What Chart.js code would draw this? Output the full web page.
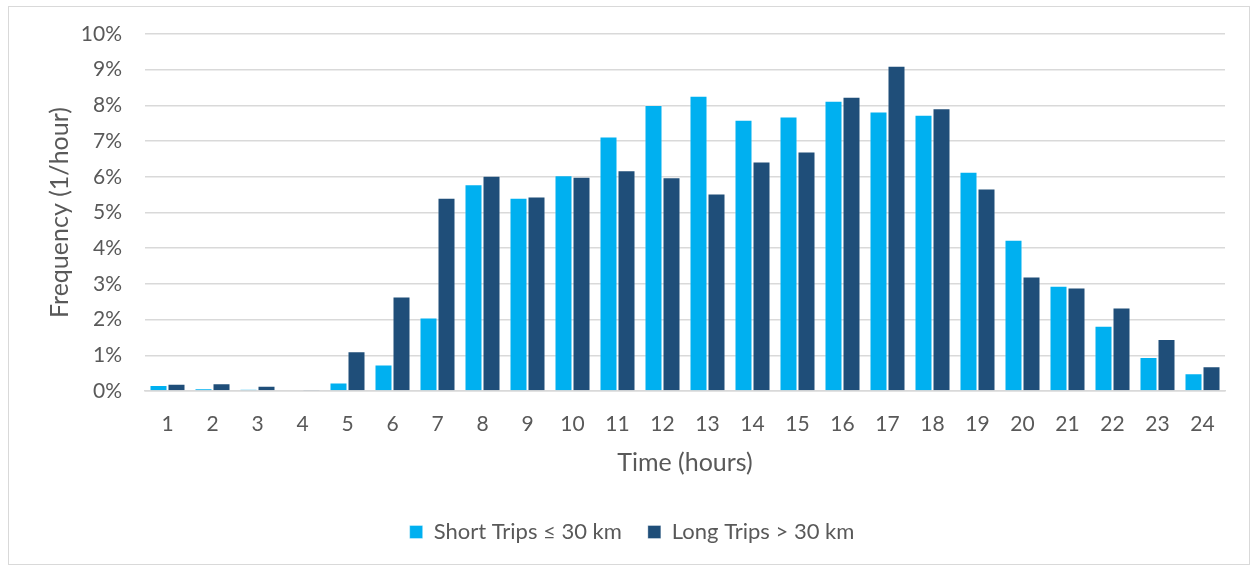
<!DOCTYPE html>
<html>
<head>
<meta charset="utf-8">
<script src="https://cdn.jsdelivr.net/npm/chart.js@4.4.1/dist/chart.umd.min.js"></script>
<style>
  html, body { margin: 0; padding: 0; background: #ffffff; }
  #frame {
    position: absolute; left: 8px; top: 6px;
    width: 1242px; height: 559px;
    border: 1px solid #d9d9d9; box-sizing: border-box;
  }
  #frame canvas { display: block; }
</style>
</head>
<body>
<div id="frame"><canvas id="c"></canvas></div>
<script>
// Hour of day (x axis)
const hours = ['1','2','3','4','5','6','7','8','9','10','11','12',
               '13','14','15','16','17','18','19','20','21','22','23','24'];
// Share of trips starting in each hour, percent
const shortTrips = [0.17, 0.08, 0.05, 0.02, 0.24, 0.74, 2.06, 5.79, 5.41, 6.04, 7.13, 8.01,
                    8.27, 7.60, 7.69, 8.13, 7.83, 7.74, 6.14, 4.24, 2.95, 1.83, 0.95, 0.50];
const longTrips  = [0.20, 0.22, 0.15, 0.04, 1.11, 2.65, 5.41, 6.03, 5.45, 6.00, 6.18, 5.99,
                    5.53, 6.43, 6.71, 8.24, 9.11, 7.92, 5.67, 3.21, 2.90, 2.34, 1.46, 0.69];
const seriesNames = ['Short Trips \u2264 30 km', 'Long Trips > 30 km'];
const yTicks = [0, 1, 2, 3, 4, 5, 6, 7, 8, 9, 10];

const textColor = '#595959';
const fontFamily = 'Lato, "Open Sans", sans-serif';

new Chart(document.getElementById('c'), {
  type: 'bar',
  data: {
    labels: hours,
    datasets: [
      { label: seriesNames[0], data: shortTrips, backgroundColor: '#00b0f0',
        borderColor: 'rgba(255,255,255,0.35)', borderWidth: 1,
        categoryPercentage: 0.8, barPercentage: 1.0 },
      { label: seriesNames[1], data: longTrips, backgroundColor: '#1f4e79',
        borderColor: 'rgba(255,255,255,0.35)', borderWidth: 1,
        categoryPercentage: 0.8, barPercentage: 1.0 }
    ]
  },
  options: {
    responsive: true,
    maintainAspectRatio: false,
    animation: false,
    layout: { padding: { left: 30, right: 24, top: 27, bottom: 11 } },
    plugins: {
      tooltip: { enabled: false },
      legend: {
        position: 'bottom',
        labels: {
          color: textColor,
          font: { family: fontFamily, size: 22 },
          boxWidth: 13, boxHeight: 13,
          padding: 26
        }
      }
    },
    scales: {
      x: {
        grid: { display: false, drawTicks: false },
        border: { display: true, color: '#d9d9d9', width: 1.5 },
        ticks: { color: textColor, font: { family: fontFamily, size: 21 }, padding: 21, maxRotation: 0 },
        title: { display: true, text: 'Time (hours)', color: textColor,
                 font: { family: fontFamily, size: 25 }, padding: { top: 0, bottom: 17 } },
        afterFit: (s) => { s.height = 104; }
      },
      y: {
        min: 0, max: 10,
        afterBuildTicks: (s) => { s.ticks = yTicks.map(v => ({ value: v })); },
        grid: { color: '#d9d9d9', lineWidth: 1.5, drawTicks: false },
        border: { display: false },
        ticks: { color: textColor, font: { family: fontFamily, size: 21 }, padding: 23,
                 callback: (v) => v + '%' },
        title: { display: true, text: 'Frequency (1/hour)', color: textColor,
                 font: { family: fontFamily, size: 25 }, padding: { top: 6, bottom: 5 } },
        afterFit: (s) => { s.width = 106; s.paddingTop = 0; s.paddingBottom = 0; }
      }
    }
  }
});
</script>
</body>
</html>
